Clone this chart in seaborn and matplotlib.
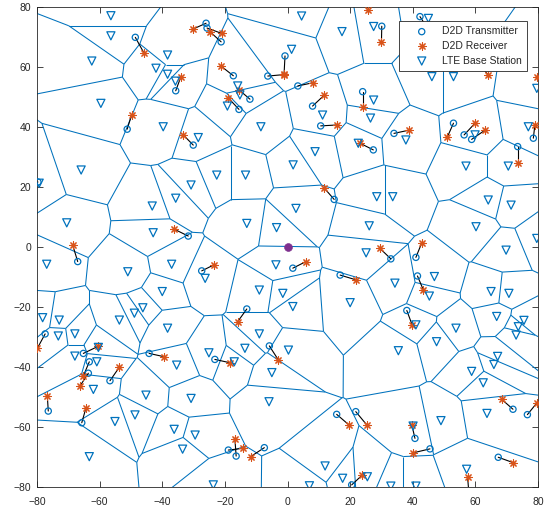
import numpy as np
import matplotlib
matplotlib.use("Agg")
import matplotlib.pyplot as plt
import matplotlib.tri as mtri
from matplotlib.collections import LineCollection
import seaborn as sns

# LTE base stations (the Voronoi cells are built from these)
bs_x = [-56.4, -56.4, -62.5, -38.3, -42.0, -38.3, -35.8, -59.6, -39.7, -28.5,
        -65.9, 4.5, 17.4, 1.3, -15.9, -15.2, -19.2, -8.5, 11.2, 8.8,
        1.8, 27.5, 27.5, 26.5, 22.6, 45.0, 46.1, 53.0, 79.6, 37.8,
        59.9, 76.9, 57.0, 70.5, -79.3, -30.8, -35.7, -43.2, -70.5, -42.9,
        -76.9, -51.0, -37.0, -40.0, -78.2, -72.9, -53.7, -48.9, -46.2, -38.3,
        -67.9, -22.6, -13.4, 2.7, -13.0, -3.5, 26.1, 25.1, -3.7, -26.3,
        -9.0, -1.5, 1.7, 20.0, -9.0, 28.5, 33.6, 64.1, 71.4, 60.2,
        79.6, 69.8, 46.9, 34.3, 45.3, 65.0, 70.7, 66.8, 75.5, 53.8,
        41.0, 73.7, 73.0, -73.2, -67.9, -60.4, -60.9, -62.0, -45.2, -35.4,
        -30.8, -55.1, -48.7, -36.2, -29.5, -33.5, -63.3, -25.1, -13.6, -17.0,
        0.3, -5.0, -5.9, 12.0, 17.6, 25.5, 7.0, -23.7, 35.4, 47.6,
        67.1, 65.9, 58.8, 62.5, 63.7, 49.0, 40.1, 57.2, 41.0, 33.0]
bs_y = [77.0, 70.3, 61.9, 63.9, 59.5, 57.5, 55.2, 47.8, 40.0, 36.4,
        25.6, 76.9, 71.7, 65.8, 53.6, 50.6, 46.9, 40.0, 43.9, 31.7,
        27.3, 73.4, 48.9, 42.9, 34.5, 76.1, 56.7, 56.7, 52.8, 35.6,
        37.3, 40.0, 26.9, 26.9, 21.2, 20.6, 16.2, 13.6, 8.0, 4.7,
        -5.8, -8.3, -5.8, -14.9, -23.6, -24.4, -24.4, -22.1, -20.3, -27.1,
        -29.0, 23.9, 23.9, 12.8, 7.8, 6.4, 7.0, -2.0, -6.0, -10.5,
        -14.4, -15.5, -19.9, -18.6, -29.0, 16.7, 16.7, 15.6, 13.9, 6.7,
        2.8, -1.1, -9.9, -12.1, -16.4, -14.9, -15.5, -23.2, -24.5, -27.1,
        -26.0, -26.6, -29.4, -29.7, -36.4, -33.5, -38.3, -47.5, -49.4, -39.4,
        -50.5, -58.2, -56.0, -60.8, -62.7, -67.4, -69.9, -35.3, -33.8, -38.3,
        -34.4, -41.9, -51.6, -73.0, -77.1, -76.6, -79.6, -79.3, -34.6, -31.6,
        -36.5, -39.2, -41.5, -45.3, -55.5, -57.9, -59.7, -74.1, -79.7, -79.7]

# D2D pairs: transmitter and receiver positions
tx_x = [-48.6, -26.0, -21.2, -25.7, -35.7, -51.2, -30.1, -0.8, -6.3, 3.3,
        -17.3, -12.0, -15.5, 8.0, 10.6, 24.0, 27.4, 25.7, 30.1, 42.3,
        60.8, 34.0, 53.0, 56.4, 58.8, 78.5, 73.5, 84.0, -67.0, -31.7,
        14.9, 1.7, 16.8, -13.0, -27.4, 33.0, 41.0, 41.5, 38.1, -77.4,
        -65.2, -63.3, -63.6, -56.7, -44.2, -76.4, -65.7, -23.2, -5.8, 15.7,
        21.8, -18.9, -16.4, -7.4, 20.5, 72.0, 76.6, 45.5, 67.3, 58.0,
        40.7, -79.7]
tx_y = [69.8, 74.5, 68.3, 72.9, 52.0, 39.2, 33.9, 63.6, 56.9, 53.6,
        57.0, 49.2, 45.8, 46.9, 40.3, 51.7, 32.3, 83.6, 73.5, 76.7,
        61.6, 37.8, 41.2, 37.3, 35.8, 36.2, 33.4, 60.0, -4.9, 3.6,
        15.8, -7.1, -9.4, -20.7, -8.0, -4.0, -3.5, -9.7, -21.2, -29.0,
        -35.5, -38.3, -42.1, -44.6, -35.5, -54.7, -58.6, -37.5, -33.0, -55.8,
        -54.9, -67.7, -69.7, -66.9, -79.3, -54.1, -55.9, -67.3, -70.1, -83.0,
        -63.8, 21.6]
rx_x = [-45.9, -30.3, -24.8, -21.0, -34.1, -49.8, -33.3, -1.1, -1.0, 8.2,
        -21.2, -15.6, -18.9, 11.8, 15.7, 24.0, 23.2, 25.8, 30.0, 45.5,
        64.1, 38.9, 51.0, 59.9, 63.1, 79.0, 73.5, 79.8, -68.6, -36.2,
        11.8, 5.9, 21.9, -15.9, -23.5, 29.5, 42.9, 43.4, 39.8, -79.9,
        -60.4, -65.2, -66.3, -53.7, -39.4, -76.7, -64.4, -18.4, -2.9, 19.6,
        25.3, -14.1, -16.8, -11.8, 23.9, 68.4, 79.7, 40.2, 72.1, 57.5,
        39.7, -84.0]
rx_y = [64.7, 72.5, 71.7, 71.1, 56.5, 43.9, 37.3, 57.6, 57.4, 54.7,
        60.2, 52.4, 49.6, 50.6, 40.6, 46.5, 34.5, 78.9, 68.2, 71.6,
        57.2, 38.9, 36.5, 41.2, 38.9, 40.6, 27.8, 56.5, 0.6, 5.9,
        19.5, -4.9, -11.0, -24.9, -6.0, -0.5, 1.4, -14.4, -26.0, -33.8,
        -33.1, -43.0, -46.4, -40.1, -36.6, -49.7, -53.8, -38.6, -37.7, -59.3,
        -59.3, -67.1, -64.1, -69.9, -76.0, -50.8, -51.9, -68.6, -71.9, -76.6,
        -59.3, 20.0]

# macro cell at the origin
macro_x = [0.0]
macro_y = [0.0]

BLUE = "#0072BD"
ORANGE = "#D95319"
PURPLE = "#7E2F8E"

sns.set_style("ticks")
plt.rcParams["font.family"] = ["Liberation Sans", "DejaVu Sans"]

fig = plt.figure(figsize=(5.58, 5.13), dpi=100)
ax = fig.add_axes([0.0663, 0.0507, 0.8979, 0.9362])

# Voronoi edges from the Delaunay triangulation of the base stations
pts = np.column_stack([bs_x, bs_y])
tri = mtri.Triangulation(pts[:, 0], pts[:, 1])
A = pts[tri.triangles[:, 0]]
B = pts[tri.triangles[:, 1]]
C = pts[tri.triangles[:, 2]]
d = 2 * (A[:, 0] * (B[:, 1] - C[:, 1]) + B[:, 0] * (C[:, 1] - A[:, 1]) + C[:, 0] * (A[:, 1] - B[:, 1]))
a2, b2, c2 = (A ** 2).sum(1), (B ** 2).sum(1), (C ** 2).sum(1)
ux = (a2 * (B[:, 1] - C[:, 1]) + b2 * (C[:, 1] - A[:, 1]) + c2 * (A[:, 1] - B[:, 1])) / d
uy = (a2 * (C[:, 0] - B[:, 0]) + b2 * (A[:, 0] - C[:, 0]) + c2 * (B[:, 0] - A[:, 0])) / d
cc = np.column_stack([ux, uy])

segs = []
for t in range(len(tri.triangles)):
    for k in range(3):
        n = tri.neighbors[t, k]
        if n == -1:
            i = tri.triangles[t, k]
            j = tri.triangles[t, (k + 1) % 3]
            o = tri.triangles[t, (k + 2) % 3]
            e = pts[j] - pts[i]
            nrm = np.array([e[1], -e[0]])
            if np.dot(nrm, (pts[i] + pts[j]) / 2 - pts[o]) < 0:
                nrm = -nrm
            nrm = nrm / np.linalg.norm(nrm)
            segs.append([cc[t], cc[t] + nrm * 500])
        elif n > t:
            segs.append([cc[t], cc[n]])

ax.add_collection(LineCollection(segs, colors=BLUE, linewidths=0.75, zorder=1))

# D2D links
ax.plot(np.vstack([tx_x, rx_x]), np.vstack([tx_y, rx_y]), color="k", lw=0.8, zorder=2)

sns.scatterplot(x=tx_x, y=tx_y, marker="o", s=20, color=BLUE, facecolor="none",
                edgecolor=BLUE, linewidth=0.9, label="D2D Transmitter", ax=ax, zorder=3)
sns.scatterplot(x=rx_x, y=rx_y, marker=(8, 2, 0), s=28, color=ORANGE,
                linewidth=0.8, label="D2D Receiver", ax=ax, zorder=3)
sns.scatterplot(x=bs_x, y=bs_y, marker="v", s=34, color=BLUE, facecolor="none",
                edgecolor=BLUE, linewidth=0.9, label="LTE Base Station", ax=ax, zorder=3)
sns.scatterplot(x=macro_x, y=macro_y, marker="o", s=32, color=PURPLE,
                edgecolor=PURPLE, ax=ax, zorder=4)

ax.set_xlim(-80, 80)
ax.set_ylim(-80, 80)
ax.set_xticks(np.arange(-80, 81, 20))
ax.set_yticks(np.arange(-80, 81, 20))
ax.tick_params(direction="in", length=4, width=0.6, top=True, right=True,
               labelsize=7.5, colors="#262626", pad=4)
ax.tick_params(axis="x", pad=7)
for s in ax.spines.values():
    s.set_visible(True)
    s.set_linewidth(0.6)
    s.set_color("#262626")

leg = ax.legend(loc="upper right", bbox_to_anchor=(0.978, 0.971), borderaxespad=0,
                fontsize=7.5, fancybox=False, framealpha=1, edgecolor="#262626",
                handletextpad=0.3, borderpad=0.55, labelspacing=0.45, handlelength=3.2)
leg.get_frame().set_linewidth(0.6)

fig.savefig("out.png", dpi=100)
